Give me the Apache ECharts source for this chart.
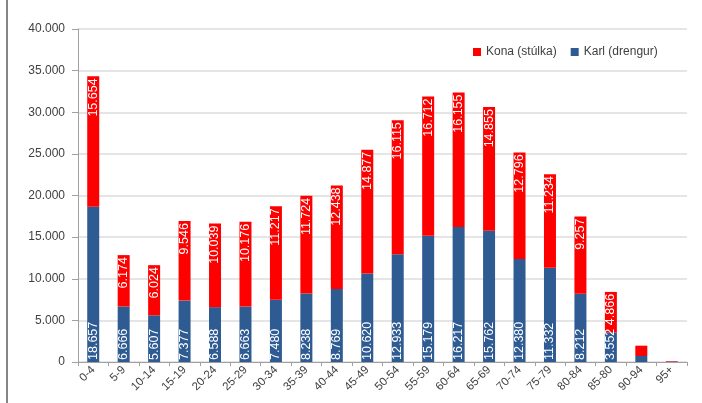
<!DOCTYPE html>
<html>
<head>
<meta charset="utf-8">
<script src="https://cdn.jsdelivr.net/npm/echarts@6/dist/echarts.min.js"></script>
<style>
  html, body { margin: 0; padding: 0; background: #fff; }
  #chart { width: 702px; height: 403px; }
</style>
</head>
<body>
<div id="chart"></div>
<script>
// Age groups
const categories = ['0-4', '5-9', '10-14', '15-19', '20-24', '25-29', '30-34', '35-39', '40-44', '45-49',
  '50-54', '55-59', '60-64', '65-69', '70-74', '75-79', '80-84', '85-80', '90-94', '95+'];

// Boys (bottom of stack)
const karl = [18657, 6666, 5607, 7377, 6588, 6663, 7480, 8238, 8769, 10620,
  12933, 15179, 16217, 15762, 12380, 11332, 8212, 3552, 720, 50];

// Girls (top of stack)
const kona = [15654, 6174, 6024, 9546, 10039, 10176, 11217, 11724, 12438, 14877,
  16115, 16712, 16155, 14855, 12796, 11234, 9257, 4866, 1240, 60];

// Y axis ticks
const yTicks = [0, 5000, 10000, 15000, 20000, 25000, 30000, 35000, 40000];

const fmt = v => String(v).replace(/\B(?=(\d{3})+(?!\d))/g, '.');
const FONT = 'Liberation Sans, Arial, sans-serif';

const chart = echarts.init(document.getElementById('chart'), null, { renderer: 'canvas' });

const labelBase = {
  show: true,
  rotate: 90,
  color: '#ffffff',
  fontFamily: FONT,
  fontSize: 12.5,
  formatter: p => (p.value >= 2000 ? fmt(p.value) : '')
};

chart.setOption({
  animation: false,
  backgroundColor: '#ffffff',
  grid: { left: 78, right: 15, top: 29, bottom: 41, containLabel: false },
  legend: {
    data: ['Kona (stúlka)', 'Karl (drengur)'],
    left: 468,
    top: 41,
    itemWidth: 8,
    itemHeight: 8,
    itemGap: 14,
    icon: 'rect',
    textStyle: { color: '#404040', fontFamily: FONT, fontSize: 12 }
  },
  xAxis: {
    type: 'category',
    data: categories,
    axisLine: { show: true, lineStyle: { color: '#a0a0a0', width: 1 } },
    axisTick: { show: true, length: 4, lineStyle: { color: '#a0a0a0' } },
    axisLabel: {
      rotate: 45,
      interval: 0,
      color: '#404040',
      fontFamily: FONT,
      fontSize: 11.5,
      margin: 6
    }
  },
  yAxis: {
    type: 'value',
    min: yTicks[0],
    max: yTicks[yTicks.length - 1],
    interval: yTicks[1] - yTicks[0],
    axisLine: { show: true, lineStyle: { color: '#a0a0a0', width: 1 } },
    axisTick: { show: true, length: 6, lineStyle: { color: '#a0a0a0' } },
    axisLabel: {
      color: '#404040',
      fontFamily: FONT,
      fontSize: 12,
      margin: 13,
      formatter: v => fmt(v)
    },
    splitLine: { show: true, lineStyle: { color: '#dcdcdc', width: 1.5 } }
  },
  series: [
    {
      name: 'Karl (drengur)',
      type: 'bar',
      stack: 'total',
      data: karl,
      barWidth: 12,
      itemStyle: { color: '#2f5b93' },
      label: Object.assign({}, labelBase, { position: 'insideBottom', align: 'left', verticalAlign: 'middle', distance: 2 })
    },
    {
      name: 'Kona (stúlka)',
      type: 'bar',
      stack: 'total',
      data: kona,
      barWidth: 12,
      itemStyle: { color: '#ff0000' },
      label: Object.assign({}, labelBase, { position: 'insideTop', align: 'right', verticalAlign: 'middle', distance: 2 })
    }
  ],
  graphic: [
    {
      type: 'line',
      shape: { x1: 7, y1: 0, x2: 7, y2: 403 },
      style: { stroke: '#333333', lineWidth: 1.2 }
    }
  ]
});
</script>
</body>
</html>
